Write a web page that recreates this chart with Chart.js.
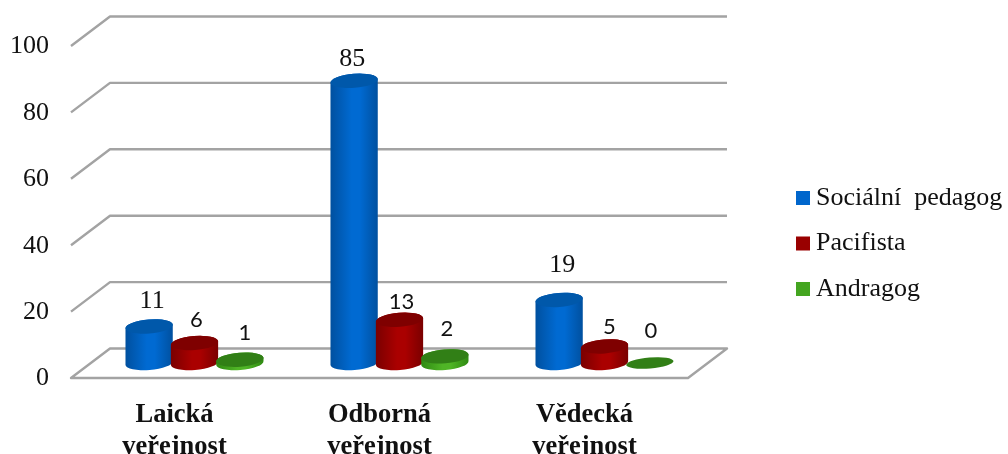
<!DOCTYPE html>
<html><head><meta charset="utf-8">
<style>html,body{margin:0;padding:0;background:#fff}canvas{display:block}</style>
<script src="https://cdn.jsdelivr.net/npm/chart.js@4"></script>
</head><body><canvas id="c" width="1008" height="454"></canvas>
<script>
const categories = [['Laická','veřejnost'],['Odborná','veřejnost'],['Vědecká','veřejnost']];
const socialniPedagog = [11,85,19];
const pacifista = [6,13,5];
const andragog = [1,2,0];
const seriesNames = ['Sociální  pedagog','Pacifista','Andragog'];
const tickStep = 20, axisMax = 100;

const SERIF = '"Liberation Serif"';
const palette = [
  {legend:'#0066cc', edge:'#00509f', mid:'#006ad2', top:'#0058aa'},
  {legend:'#990000', edge:'#7a0000', mid:'#aa0000', top:'#7f0000'},
  {legend:'#44a520', edge:'#2f8a12', mid:'#4fb526', top:'#317f16'}
];
// hand placement of the value labels in the reference, relative to each bar top
const nudge = [
  [[3,-25,1],[-2,-22,1],[3,-35,1]],
  [[2,-23,0],[2,-18,0],[5,-19,0]],
  [[5,-27,0],[2,-27,0],[1,-32,0]]
];

const scene = {
  id:'scene',
  beforeDatasetsDraw(chart){
    const {ctx,chartArea:a,scales:{y}} = chart;
    ctx.save();
    ctx.strokeStyle='#a3a3a3'; ctx.lineWidth=2.4; ctx.lineJoin='round';
    y.ticks.forEach(t=>{
      const p=y.getPixelForValue(t.value);
      ctx.beginPath();
      ctx.moveTo(a.left-21,p+15);
      ctx.lineTo(a.left+18,p-14.5);
      ctx.lineTo(a.right+20,p-14.5);
      if(t.value===0){ctx.lineTo(a.right-19,p+15);ctx.closePath();}
      ctx.stroke();
    });
    ctx.restore();
  },
  beforeDatasetDraw(){ return false; },
  afterDatasetsDraw(chart){
    const {ctx,scales:{y}} = chart;
    const base=y.getPixelForValue(0), rot=-0.08;
    chart.data.datasets.forEach((ds,di)=>{
      const col=palette[di];
      chart.getDatasetMeta(di).data.forEach(el=>{
        const rx=el.width/2, ry=7, cx=el.x, top=el.y;
        ctx.save();
        if(top<base-0.5){
          const g=ctx.createLinearGradient(cx-rx,0,cx+rx,0);
          g.addColorStop(0,col.edge); g.addColorStop(.45,col.mid); g.addColorStop(.62,col.mid); g.addColorStop(1,col.edge);
          ctx.fillStyle=g;
          ctx.beginPath();
          ctx.ellipse(cx,base,rx,ry,rot,0,Math.PI);
          ctx.ellipse(cx,top,rx,ry,rot,Math.PI,2*Math.PI);
          ctx.closePath();
          ctx.fill();
        }
        ctx.fillStyle=col.top;
        ctx.beginPath();
        ctx.ellipse(cx,top,rx,top<base-0.5?ry:5.5,rot,0,2*Math.PI);
        ctx.fill();
        ctx.restore();
      });
    });
    ctx.save();
    ctx.textAlign='center'; ctx.textBaseline='middle'; ctx.fillStyle='#111';
    chart.data.datasets.forEach((ds,di)=>{
      chart.getDatasetMeta(di).data.forEach((el,i)=>{
        const n=nudge[di][i];
        ctx.font=n[2]?`26px ${SERIF}`:'22px Lato';
        ctx.fillText(String(ds.data[i]),el.x+n[0],el.y+n[1]);
      });
    });
    ctx.restore();
  },
  afterLayout(chart){
    const l=chart.legend, pad=chart.options.plugins.legend.labels.padding;
    l.left=803-pad;
    l.top=184.9-pad;
    l.right=l.left+l.width; l.bottom=l.top+l.height;
  }
};

new Chart(document.getElementById('c'),{
  type:'bar',
  data:{
    labels:categories,
    datasets:[socialniPedagog,pacifista,andragog].map((d,i)=>({
      label:seriesNames[i], data:d, backgroundColor:palette[i].legend, borderWidth:0,
      categoryPercentage:0.664, barPercentage:1.045
    }))
  },
  options:{
    responsive:false, animation:false,
    layout:{padding:{left:0,top:31,right:301,bottom:0}},
    plugins:{
      tooltip:{enabled:false},
      legend:{
        position:'chartArea', align:'start',
        labels:{usePointStyle:true,pointStyle:'rect',boxWidth:0.01,boxHeight:14,padding:19.5,color:'#111',
          font:{family:SERIF,size:26}}
      }
    },
    scales:{
      x:{
        grid:{display:false}, border:{display:false},
        afterFit(s){s.height=91;s.paddingLeft=0;s.paddingRight=0;},
        ticks:{color:'#111',labelOffset:-20,padding:28,maxRotation:0,autoSkip:false,
          font:{family:SERIF,size:26.5,weight:'bold'}}
      },
      y:{
        min:0,max:axisMax,
        grid:{display:false,drawTicks:false}, border:{display:false},
        afterFit(s){s.width=92;s.paddingTop=0;s.paddingBottom=0;},
        ticks:{stepSize:tickStep,color:'#111',labelOffset:15.5,padding:43,
          font:{family:SERIF,size:26}}
      }
    }
  },
  plugins:[scene]
});
</script></body></html>
